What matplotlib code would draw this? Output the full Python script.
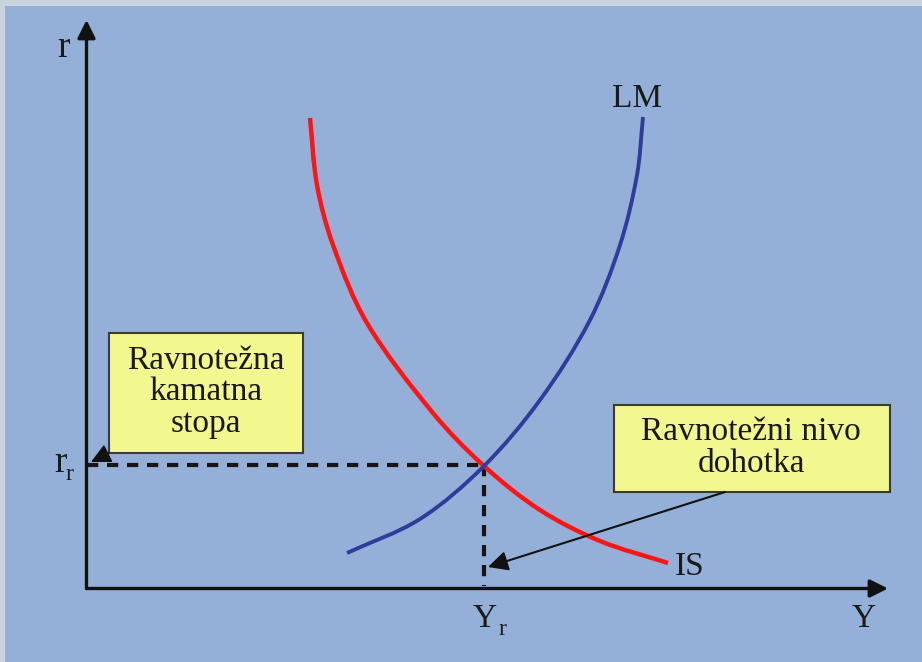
import matplotlib.pyplot as plt
import numpy as np
from matplotlib.patches import Rectangle, PathPatch
from matplotlib.path import Path

# curve points (pixel coordinates, y grows downward)
is_x = [310, 317, 333, 367, 433, 484, 540, 600, 668]
is_y = [118, 185, 245, 323, 413, 466, 510, 541, 563]
lm_x = [347, 420, 484, 540, 590, 620, 637, 643]
lm_y = [553, 519, 466, 400, 320, 245, 175, 117]
eq_x, eq_y = 484, 465
box1_text = "Ravnotežna\nkamatna\nstopa"
box2_text = "Ravnotežni nivo\ndohotka"

plt.rcParams['font.family'] = ['Liberation Serif', 'DejaVu Serif']


def smooth_path(xs, ys):
    # bezier path through the points, tangents scaled by chord length
    p = np.column_stack([xs, ys]).astype(float)
    d = np.linalg.norm(np.diff(p, axis=0), axis=1)
    n = len(p)
    tang = np.zeros_like(p)
    for i in range(n):
        if i == 0:
            tang[i] = (p[1] - p[0]) / d[0]
        elif i == n - 1:
            tang[i] = (p[-1] - p[-2]) / d[-1]
        else:
            tang[i] = (p[i + 1] - p[i - 1]) / (d[i - 1] + d[i])
    verts = [p[0]]
    codes = [Path.MOVETO]
    for i in range(n - 1):
        verts += [p[i] + tang[i] * d[i] / 3, p[i + 1] - tang[i + 1] * d[i] / 3, p[i + 1]]
        codes += [Path.CURVE4] * 3
    return Path(verts, codes)


fig = plt.figure(figsize=(9.22, 6.62), dpi=100)
fig.patch.set_facecolor('#c8d3dc')
ax = fig.add_axes([0, 0, 1, 1])
ax.set_xlim(0, 922)
ax.set_ylim(662, 0)
ax.axis('off')

ax.add_patch(Rectangle((5, 6), 917, 656, facecolor='#95b0d8', edgecolor='none', zorder=0))

# axes with arrows
ax.annotate('', xy=(888, 588.5), xytext=(86.5, 588.5),
            arrowprops=dict(arrowstyle='-|>', lw=2.4, color='#111111',
                            mutation_scale=27, shrinkA=0, shrinkB=0))
ax.annotate('', xy=(86.5, 20), xytext=(86.5, 588.5),
            arrowprops=dict(arrowstyle='-|>', lw=2.4, color='#111111',
                            mutation_scale=27, shrinkA=0, shrinkB=0))

# curves
ax.add_patch(PathPatch(smooth_path(is_x, is_y), facecolor='none', edgecolor='#ff1414',
                       lw=3.2, capstyle='butt', zorder=3))
ax.add_patch(PathPatch(smooth_path(lm_x, lm_y), facecolor='none', edgecolor='#2f3c9c',
                       lw=2.8, capstyle='butt', zorder=3))

# dashed guides
ax.plot([86.5, eq_x], [eq_y, eq_y], color='#1a1414', lw=3, ls=(0, (2.7, 2.1)), zorder=2)
ax.plot([eq_x, eq_x], [eq_y, 586], color='#1a1414', lw=3, ls=(0, (2.7, 2.1)), zorder=2)

# labels
ax.text(63, 57, 'r', fontsize=27, ha='center', va='baseline', color='#1a1a1a')
ax.text(60, 472, 'r', fontsize=27, ha='center', va='baseline', color='#1a1a1a')
ax.text(69, 480, 'r', fontsize=17, ha='center', va='baseline', color='#1a1a1a')
ax.text(485, 627, 'Y', fontsize=24, ha='center', va='baseline', color='#1a1a1a')
ax.text(502, 635, 'r', fontsize=17, ha='center', va='baseline', color='#1a1a1a')
ax.text(864, 627, 'Y', fontsize=24, ha='center', va='baseline', color='#1a1a1a')
ax.text(690, 575, 'IS', fontsize=24, ha='center', va='baseline', color='#1a1a1a')
ax.text(637, 107, 'LM', fontsize=24, ha='center', va='baseline', color='#1a1a1a')

# boxes
ax.add_patch(Rectangle((109, 333), 194, 120, facecolor='#f3f78f', edgecolor='#3a3a3a', lw=1.5, zorder=4))
ax.text(206, 392, box1_text, fontsize=24, ha='center', va='center',
        linespacing=1.05, color='#1a1a1a', zorder=5)
ax.add_patch(Rectangle((614, 405), 276, 87, facecolor='#f3f78f', edgecolor='#3a3a3a', lw=1.5, zorder=4))
ax.text(751, 448, box2_text, fontsize=24, ha='center', va='center',
        linespacing=1.05, color='#1a1a1a', zorder=5)

# pointer arrows
ax.annotate('', xy=(91, 462), xytext=(109, 453),
            arrowprops=dict(arrowstyle='-|>', lw=1.2, color='#111111',
                            mutation_scale=30, shrinkA=0, shrinkB=0), zorder=5)
ax.annotate('', xy=(488, 567), xytext=(725, 492),
            arrowprops=dict(arrowstyle='-|>', lw=1.5, color='#111111',
                            mutation_scale=30, shrinkA=0, shrinkB=0), zorder=5)

plt.savefig('out.png', dpi=100, facecolor=fig.get_facecolor())
